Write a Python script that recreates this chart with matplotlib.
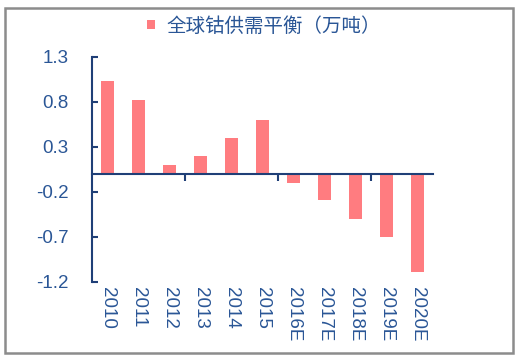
import matplotlib
matplotlib.use("Agg")
import matplotlib.pyplot as plt
from matplotlib.patches import Rectangle

categories = ["2010", "2011", "2012", "2013", "2014", "2015",
              "2016E", "2017E", "2018E", "2019E", "2020E"]
balance = [1.03, 0.82, 0.10, 0.20, 0.40, 0.60, -0.10, -0.29, -0.50, -0.70, -1.09]
yticks = [-1.2, -0.7, -0.2, 0.3, 0.8, 1.3]
legend_label = "全球钴供需平衡（万吨）"

text_color = "#2A5696"
axis_color = "#1F3F77"
bar_color = "#FF7C80"

plt.rcParams['font.family'] = ['Liberation Sans', 'DejaVu Sans']

fig = plt.figure(figsize=(5.2, 3.59), dpi=100)
ax = fig.add_axes([92/520, 1-281.7/359, (433-92)/520, (281.7-56.7)/359])

x = list(range(len(categories)))
bars = ax.bar(x, balance, width=0.42, color=bar_color, label=legend_label, zorder=2)

ax.set_xlim(-0.5, len(categories) - 0.5)
ax.set_ylim(-1.2, 1.3)
ax.set_yticks(yticks)
ax.set_yticklabels([f"{v:.1f}" for v in yticks])
ax.tick_params(axis='y', direction='in', length=4, width=1.5, color=axis_color,
               labelcolor=text_color, labelsize=13.5, pad=17)

for s in ['top', 'right']:
    ax.spines[s].set_visible(False)
ax.spines['left'].set_color(axis_color)
ax.spines['left'].set_linewidth(1.5)
ax.spines['bottom'].set_position(('data', 0))
ax.spines['bottom'].set_color(axis_color)
ax.spines['bottom'].set_linewidth(1.5)
ax.spines['bottom'].set_zorder(3)

# tick marks on the zero line at group boundaries
ax.set_xticks([2.5, 5.5, 8.5])
ax.set_xticklabels([])
ax.tick_params(axis='x', direction='out', length=5, width=1.5, color=axis_color)

# category labels at the bottom of the plot area
sec = ax.secondary_xaxis('bottom')
sec.set_xticks(x)
sec.set_xticklabels(categories, rotation=270, ha='center', va='top')
sec.tick_params(length=0, pad=4, labelsize=13.5, labelcolor=text_color)
sec.spines['bottom'].set_visible(False)

leg = fig.legend(handles=[bars], labels=[legend_label], loc='center',
                 bbox_to_anchor=(0.508, 1-26/359), frameon=False,
                 handlelength=0.4, handleheight=0.4, handletextpad=0.6,
                 prop={'family': ['Noto Sans CJK SC', 'DejaVu Sans'], 'size': 14})
for t in leg.get_texts():
    t.set_color(text_color)

fig.patches.append(Rectangle((5/520, 1-353/359), (513-5)/520, (353-8)/359,
                             transform=fig.transFigure, fill=False,
                             edgecolor="#8C8C8C", linewidth=1.8))

fig.savefig("out.png", dpi=100)
